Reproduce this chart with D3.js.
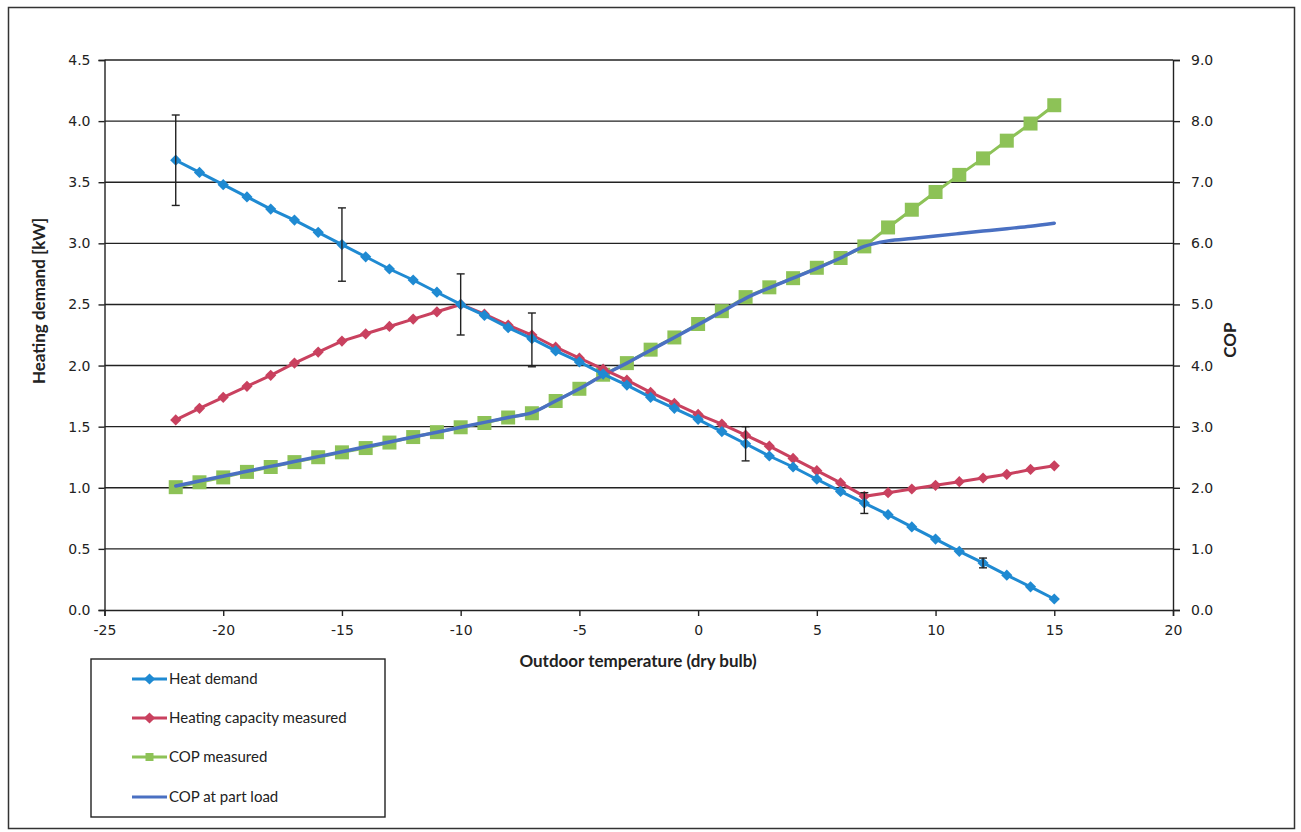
<!DOCTYPE html>
<html>
<head>
<meta charset="utf-8">
<script src="https://cdn.jsdelivr.net/npm/d3@7/dist/d3.min.js"></script>
<style>
  html, body { margin: 0; padding: 0; background: #ffffff; }
  svg { display: block; }
</style>
</head>
<body>
<svg id="chart" width="1301" height="832"></svg>
<script>
// ---- data ----
const temps = [-22,-21,-20,-19,-18,-17,-16,-15,-14,-13,-12,-11,-10,-9,-8,-7,-6,-5,-4,-3,-2,-1,0,1,2,3,4,5,6,7,8,9,10,11,12,13,14,15];
const heatDemand = [3.68,3.58,3.48,3.38,3.28,3.19,3.09,2.99,2.89,2.79,2.70,2.60,2.50,2.41,2.31,2.22,2.12,2.03,1.93,1.84,1.74,1.65,1.56,1.46,1.36,1.26,1.17,1.07,0.97,0.875,0.78,0.68,0.58,0.48,0.385,0.285,0.19,0.09];
const heatingCapacity = [1.555,1.65,1.74,1.83,1.92,2.02,2.11,2.20,2.26,2.32,2.38,2.44,2.50,2.42,2.33,2.25,2.15,2.06,1.97,1.88,1.78,1.69,1.60,1.52,1.43,1.34,1.24,1.14,1.04,0.93,0.96,0.99,1.02,1.05,1.08,1.11,1.15,1.18];
const copMeasured = [2.01,2.09,2.17,2.26,2.34,2.42,2.50,2.58,2.65,2.74,2.83,2.91,2.99,3.06,3.15,3.22,3.42,3.62,3.85,4.04,4.26,4.46,4.68,4.89,5.12,5.28,5.43,5.60,5.76,5.95,6.26,6.55,6.84,7.12,7.39,7.68,7.96,8.26];
const copPartLoad = [2.03,2.11,2.19,2.27,2.35,2.43,2.51,2.59,2.67,2.75,2.83,2.91,2.99,3.07,3.15,3.23,3.42,3.62,3.84,4.04,4.25,4.46,4.67,4.88,5.10,5.27,5.43,5.59,5.76,5.95,6.04,6.08,6.12,6.16,6.20,6.24,6.28,6.33];
// error bars on heat demand
const errTemps = [-22,-15,-10,-7,2,7,12];
const errLow  = [3.31,2.69,2.25,1.99,1.22,0.79,0.345];
const errHigh = [4.05,3.29,2.75,2.43,1.50,0.96,0.425];

const xTicks = [-25,-20,-15,-10,-5,0,5,10,15,20];
const yLeftTicks = [0,0.5,1,1.5,2,2.5,3,3.5,4,4.5];
const yRightTicks = [0,1,2,3,4,5,6,7,8,9];

const seriesNames = ["Heat demand","Heating capacity measured","COP measured","COP at part load"];
const colors = {hd:"#1f8ad2", hc:"#c9415f", cm:"#8dc257", cp:"#4a70c2"};

// ---- layout ----
const svg = d3.select("#chart");
const plot = {left:104.5, right:1173, top:60, bottom:610};

const x = d3.scaleLinear().domain([-25,20]).range([plot.left, plot.right]);
const yL = d3.scaleLinear().domain([0,4.5]).range([plot.bottom, plot.top]);
const yR = d3.scaleLinear().domain([0,9]).range([plot.bottom, plot.top]);

// outer frame
svg.append("rect").attr("x",8.5).attr("y",7.5).attr("width",1286).attr("height",821)
  .attr("fill","none").attr("stroke","#333").attr("stroke-width",1.5);

// gridlines
svg.append("g").selectAll("line").data(yLeftTicks.filter(d=>d>0)).join("line")
  .attr("x1",plot.left).attr("x2",plot.right)
  .attr("y1",d=>yL(d)).attr("y2",d=>yL(d))
  .attr("stroke","#222").attr("stroke-width",1.4);

const tickFont = "'DejaVu Sans', Verdana, sans-serif";
const textFont = "Lato, 'Open Sans', sans-serif";

// axes
const xAxis = d3.axisBottom(x).tickValues(xTicks).tickFormat(d=>String(d)).tickSize(6).tickPadding(6);
const gx = svg.append("g").attr("transform",`translate(0,${plot.bottom})`).call(xAxis);
const yAxisL = d3.axisLeft(yL).tickValues(yLeftTicks).tickFormat(d3.format(".1f")).tickSize(6).tickPadding(8);
const gyl = svg.append("g").attr("transform",`translate(${plot.left},0)`).call(yAxisL);
const yAxisR = d3.axisRight(yR).tickValues(yRightTicks).tickFormat(d3.format(".1f")).tickSize(7).tickPadding(11);
const gyr = svg.append("g").attr("transform",`translate(${plot.right},0)`).call(yAxisR);
[gx,gyl,gyr].forEach(g=>{
  g.select(".domain").attr("stroke","#222").attr("stroke-width",1.4);
  g.selectAll(".tick line").attr("stroke","#222").attr("stroke-width",1.4);
  g.selectAll(".tick text").attr("fill","#222").style("font-family",tickFont).style("font-size","14px");
});
gx.selectAll(".tick text").attr("dy","0.9em");

// axis titles
svg.append("text").attr("transform",`translate(45,301) rotate(-90)`)
  .attr("text-anchor","middle").style("font-family",textFont).style("font-weight","bold")
  .style("font-size","17px").attr("fill","#222").text("Heating demand [kW]");
svg.append("text").attr("transform",`translate(1236,340) rotate(-90)`)
  .attr("text-anchor","middle").style("font-family",textFont).style("font-weight","bold")
  .style("font-size","17px").attr("fill","#222").text("COP");
svg.append("text").attr("x",638).attr("y",667)
  .attr("text-anchor","middle").style("font-family",textFont).style("font-weight","bold")
  .style("font-size","17px").attr("fill","#222").text("Outdoor temperature (dry bulb)");

// data series
const hd = temps.map((t,i)=>({t, v:heatDemand[i]}));
const hc = temps.map((t,i)=>({t, v:heatingCapacity[i]}));
const cm = temps.map((t,i)=>({t, v:copMeasured[i]}));
const cp = temps.map((t,i)=>({t, v:copPartLoad[i]}));

const lineL = d3.line().x(d=>x(d.t)).y(d=>yL(d.v));
const lineR = d3.line().x(d=>x(d.t)).y(d=>yR(d.v));
const lineRs = d3.line().x(d=>x(d.t)).y(d=>yR(d.v)).curve(d3.curveMonotoneX);

// square diamond (rotated square), half-diagonal r
const diamondPath = r => `M0,${-r}L${r},0L0,${r}L${-r},0Z`;
const diamond = diamondPath(5.6);
const square = d3.symbol().type(d3.symbolSquare).size(196);

// COP measured (green squares)
svg.append("path").datum(cm).attr("d",lineR).attr("fill","none")
  .attr("stroke",colors.cm).attr("stroke-width",3);
svg.append("g").selectAll("path").data(cm).join("path")
  .attr("transform",d=>`translate(${x(d.t)},${yR(d.v)})`).attr("d",square).attr("fill",colors.cm);

// COP part load
svg.append("path").datum(cp).attr("d",lineRs).attr("fill","none")
  .attr("stroke",colors.cp).attr("stroke-width",3.5).attr("stroke-linecap","round");

// heating capacity (red)
svg.append("path").datum(hc).attr("d",lineL).attr("fill","none")
  .attr("stroke",colors.hc).attr("stroke-width",3);
svg.append("g").selectAll("path").data(hc).join("path")
  .attr("transform",d=>`translate(${x(d.t)},${yL(d.v)})`).attr("d",diamond).attr("fill",colors.hc);

// heat demand (blue)
svg.append("path").datum(hd).attr("d",lineL).attr("fill","none")
  .attr("stroke",colors.hd).attr("stroke-width",3);
svg.append("g").selectAll("path").data(hd).join("path")
  .attr("transform",d=>`translate(${x(d.t)},${yL(d.v)})`).attr("d",diamond).attr("fill",colors.hd);

// error bars
const eb = svg.append("g").attr("stroke","#222").attr("stroke-width",1.4);
errTemps.forEach((t,i)=>{
  const cx = x(t);
  eb.append("line").attr("x1",cx).attr("x2",cx).attr("y1",yL(errLow[i])).attr("y2",yL(errHigh[i]));
  eb.append("line").attr("x1",cx-4).attr("x2",cx+4).attr("y1",yL(errLow[i])).attr("y2",yL(errLow[i]));
  eb.append("line").attr("x1",cx-4).attr("x2",cx+4).attr("y1",yL(errHigh[i])).attr("y2",yL(errHigh[i]));
});

// legend
const lg = svg.append("g");
lg.append("rect").attr("x",91).attr("y",659).attr("width",294).attr("height",158)
  .attr("fill","#fff").attr("stroke","#222").attr("stroke-width",1.4);
const legendY = [679,718,757,797];
const legendDefs = [
  {name:seriesNames[0], color:colors.hd, marker:diamond},
  {name:seriesNames[1], color:colors.hc, marker:diamond},
  {name:seriesNames[2], color:colors.cm, marker:d3.symbol().type(d3.symbolSquare).size(64)()},
  {name:seriesNames[3], color:colors.cp, marker:null}
];
legendDefs.forEach((d,i)=>{
  const yy = legendY[i];
  lg.append("line").attr("x1",132).attr("x2",167).attr("y1",yy).attr("y2",yy)
    .attr("stroke",d.color).attr("stroke-width",3);
  if (d.marker) lg.append("path").attr("transform",`translate(149.5,${yy})`).attr("d",d.marker).attr("fill",d.color);
  lg.append("text").attr("x",169).attr("y",yy).attr("dy","0.35em")
    .style("font-family",textFont).style("font-size","15px").attr("fill","#222").text(d.name);
});
</script>
</body>
</html>
